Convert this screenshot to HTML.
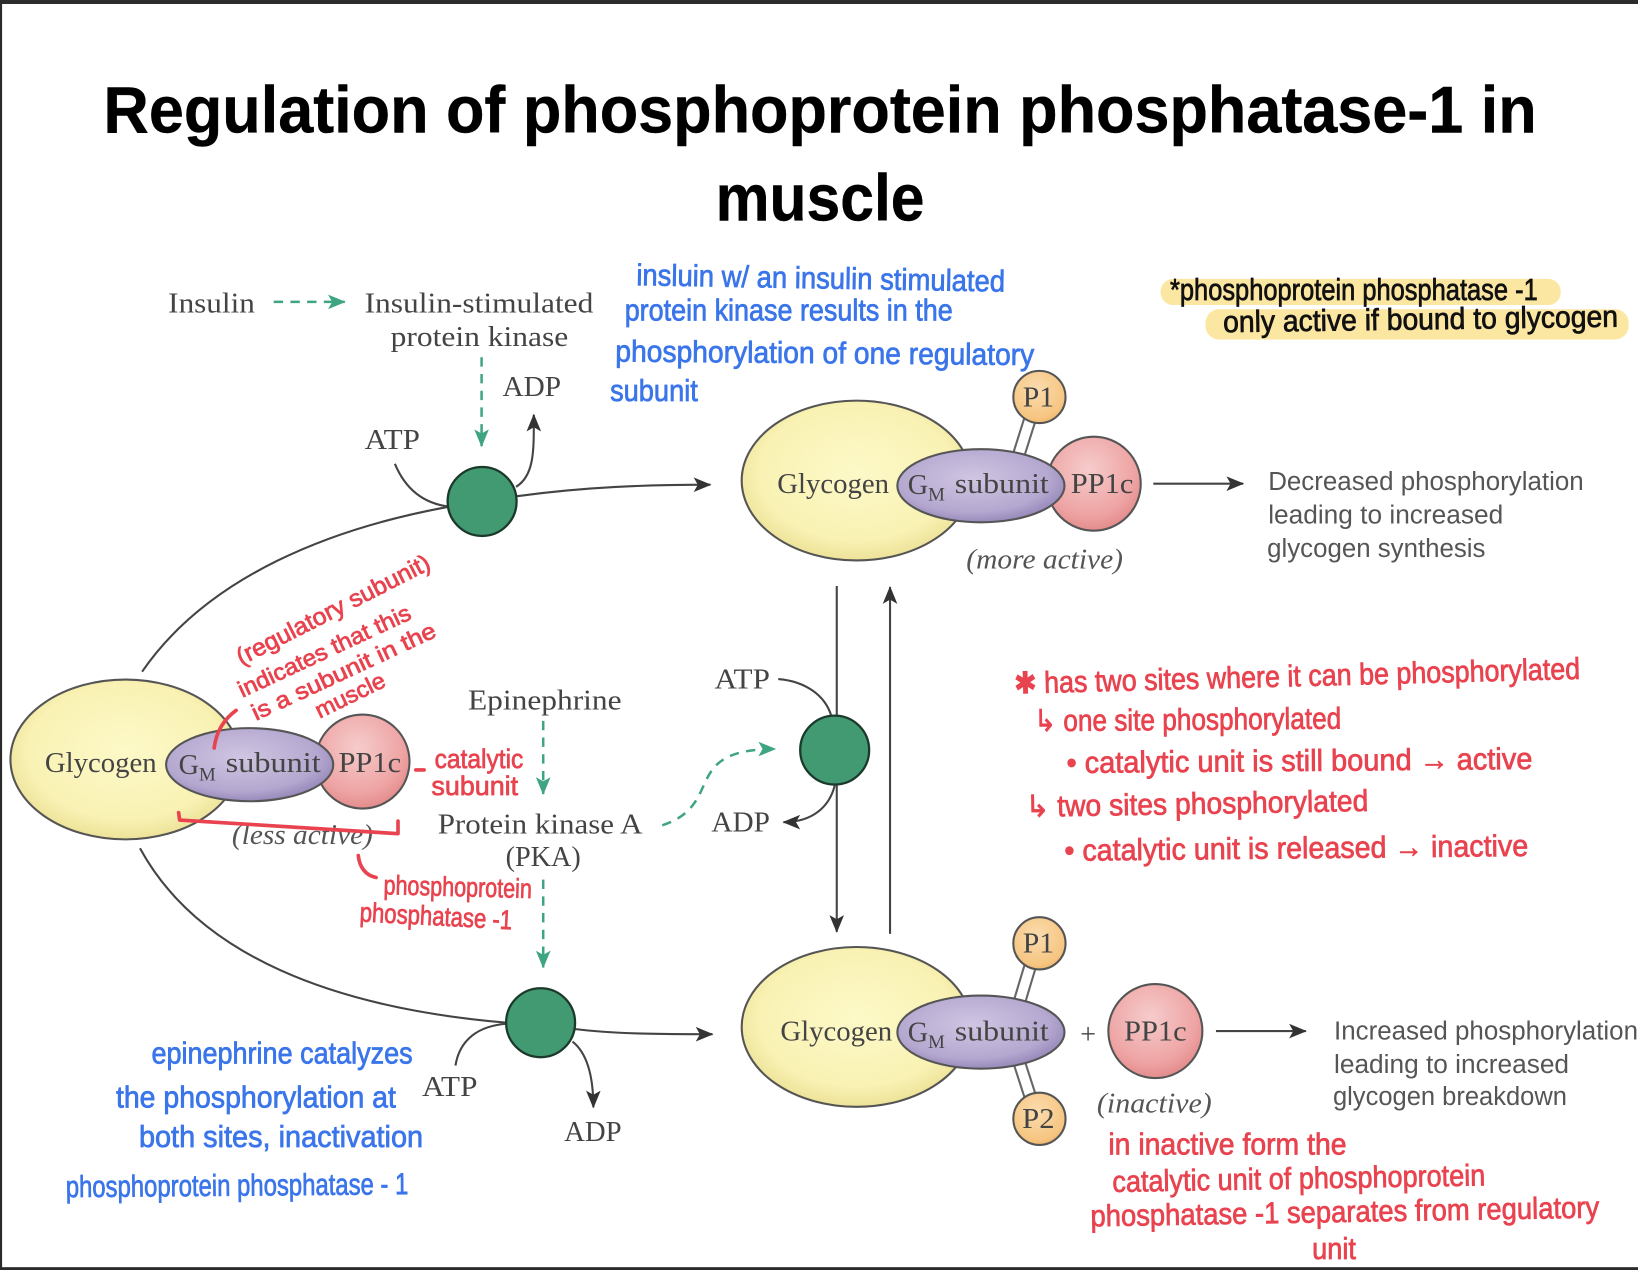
<!DOCTYPE html>
<html><head><meta charset="utf-8"><title>Regulation of phosphoprotein phosphatase-1 in muscle</title>
<style>
html,body{margin:0;padding:0;background:#fff}
svg{display:block;filter:blur(.35px)}
.t{font-family:"Liberation Sans",sans-serif;font-weight:700;fill:#000;stroke:#000;stroke-width:.4}
.s{font-family:"Liberation Serif",serif;font-size:27px;fill:#444}
.i{font-style:italic;fill:#555}
.a{font-family:"Liberation Sans",sans-serif;font-size:25px;fill:#555}
.h{font-family:"Liberation Sans",sans-serif;font-size:29px;stroke-width:.7}
.b{fill:#3a75ea;stroke:#3a75ea}
.r{fill:#e8434f;stroke:#e8434f}
.k{fill:#111;stroke:#111}
.l{fill:none;stroke:#444;stroke-width:2}
.d{fill:none;stroke:#3fa483;stroke-width:2.4;stroke-dasharray:9 7}
.rl{fill:none;stroke:#e8434f;stroke-width:3.5;stroke-linecap:round;stroke-linejoin:round}
.o{stroke:#555;stroke-width:2}
.stalk{stroke:#666;stroke-width:13}
.stalk2{stroke:#fff;stroke-width:9}
.g{fill:#429a72;stroke:#1c3a2c;stroke-width:2.2}
</style></head><body>
<svg width="1638" height="1270" viewBox="0 0 1568 1215.7" xmlns="http://www.w3.org/2000/svg">
<defs>
<radialGradient id="gy" cx=".5" cy=".45" r=".6"><stop offset="0" stop-color="#fdf9c8"/><stop offset=".7" stop-color="#f9f2b4"/><stop offset="1" stop-color="#e8dc8e"/></radialGradient>
<radialGradient id="gp" cx=".45" cy=".4" r=".65"><stop offset="0" stop-color="#d0c5e2"/><stop offset=".7" stop-color="#b5a8d0"/><stop offset="1" stop-color="#8f80b3"/></radialGradient>
<radialGradient id="grr" cx=".45" cy=".35" r=".7"><stop offset="0" stop-color="#f6cccc"/><stop offset=".7" stop-color="#eea3a3"/><stop offset="1" stop-color="#e08585"/></radialGradient>
<radialGradient id="go" cx=".45" cy=".35" r=".7"><stop offset="0" stop-color="#fbdcae"/><stop offset=".8" stop-color="#f6c581"/><stop offset="1" stop-color="#eeb066"/></radialGradient>
<marker id="ak" markerUnits="userSpaceOnUse" markerWidth="18" markerHeight="14" refX="16" refY="7" orient="auto"><path d="M0 0L17 7L0 14L4 7Z" fill="#333"/></marker>
<marker id="ag" markerUnits="userSpaceOnUse" markerWidth="18" markerHeight="14" refX="16" refY="7" orient="auto"><path d="M0 0L17 7L0 14L4 7Z" fill="#3fa483"/></marker>
</defs>
<rect width="1568" height="1215.7" fill="#fff"/>
<rect width="1568" height="3.8" fill="#2b2b2b"/>
<rect width="2" height="1215.7" fill="#2b2b2b"/>
<rect y="1213" width="1568" height="3" fill="#2b2b2b"/>

<text class="t" x="99" y="127" font-size="63" textLength="1372" lengthAdjust="spacingAndGlyphs">Regulation of phosphoprotein phosphatase-1 in</text>
<text class="t" x="685" y="211" font-size="63" textLength="200" lengthAdjust="spacingAndGlyphs">muscle</text>

<text class="s" x="161" y="299" textLength="83" lengthAdjust="spacingAndGlyphs">Insulin</text>
<path class="d" d="M262 289H330" marker-end="url(#ag)"/>
<text class="s" x="349" y="299" textLength="219" lengthAdjust="spacingAndGlyphs">Insulin-stimulated</text>
<text class="s" x="374" y="331" textLength="170" lengthAdjust="spacingAndGlyphs">protein kinase</text>
<path class="d" d="M461 342V427" marker-end="url(#ag)"/>
<text class="s" x="481" y="379" textLength="56" lengthAdjust="spacingAndGlyphs">ADP</text>
<text class="s" x="349" y="430" textLength="53" lengthAdjust="spacingAndGlyphs">ATP</text>

<path class="l" d="M136 643C200 550 320 505 430 485"/>
<path class="l" d="M495 475C560 466 620 464 680 464" stroke-width="3" marker-end="url(#ak)"/>
<path class="l" d="M378 444C388 468 405 482 430 485"/>
<path class="l" d="M494 466C512 455 511 430 511 397" marker-end="url(#ak)"/>
<circle class="g" cx="461.5" cy="480" r="33"/>

<path class="l" d="M134 812C190 915 320 965 485 979"/>
<path class="l" d="M550 985C590 990 640 990 682 990" marker-end="url(#ak)"/>
<path class="l" d="M436 1020C440 995 458 982 485 980"/>
<path class="l" d="M548 997C562 1008 568 1030 568 1060" marker-end="url(#ak)"/>
<circle class="g" cx="517.5" cy="979" r="33"/>
<text class="s" x="404" y="1049" textLength="53" lengthAdjust="spacingAndGlyphs">ATP</text>
<text class="s" x="540" y="1092" textLength="55" lengthAdjust="spacingAndGlyphs">ADP</text>

<path class="l" d="M801 561V892" marker-end="url(#ak)"/>
<path class="l" d="M852 894V562" marker-end="url(#ak)"/>
<path class="l" d="M745 650C770 652 790 665 796 686"/>
<path class="l" d="M799 752C794 772 778 787 750 787" marker-end="url(#ak)"/>
<circle class="g" cx="799" cy="718" r="33"/>
<text class="s" x="684" y="659" textLength="53" lengthAdjust="spacingAndGlyphs">ATP</text>
<text class="s" x="681" y="796" textLength="56" lengthAdjust="spacingAndGlyphs">ADP</text>

<text class="s" x="448" y="679" textLength="147" lengthAdjust="spacingAndGlyphs">Epinephrine</text>
<path class="d" d="M520 690V760" marker-end="url(#ag)"/>
<text class="s" x="419" y="798" textLength="196" lengthAdjust="spacingAndGlyphs">Protein kinase A</text>
<text class="s" x="484" y="829" textLength="72" lengthAdjust="spacingAndGlyphs">(PKA)</text>
<path class="d" d="M520 842V926" marker-end="url(#ag)"/>
<path class="d" d="M634 790C695 770 650 717 742 717" marker-end="url(#ag)"/>

<ellipse class="o" cx="120" cy="727" rx="110" ry="76.5" fill="url(#gy)"/>
<circle class="o" cx="347" cy="729" r="45" fill="url(#grr)"/>
<ellipse class="o" cx="239" cy="732" rx="80" ry="35" fill="url(#gp)"/>
<text class="s" x="43" y="739" textLength="107" lengthAdjust="spacingAndGlyphs">Glycogen</text>
<text class="s" x="171" y="741">G<tspan font-size="18" dy="6">M</tspan></text>
<text class="s" x="216" y="739" textLength="91" lengthAdjust="spacingAndGlyphs">subunit</text>
<text class="s" x="324" y="739" textLength="60" lengthAdjust="spacingAndGlyphs">PP1c</text>
<text class="s i" x="222" y="808" textLength="135" lengthAdjust="spacingAndGlyphs">(less active)</text>

<path class="stalk" d="M987 398L975 436"/><path class="stalk2" d="M987 398L975 436"/>
<circle class="o" cx="995" cy="380" r="25" fill="url(#go)"/>
<ellipse class="o" cx="820" cy="460" rx="110" ry="76.5" fill="url(#gy)"/>
<circle class="o" cx="1047" cy="463" r="45" fill="url(#grr)"/>
<ellipse class="o" cx="939" cy="465" rx="80" ry="35" fill="url(#gp)"/>
<text class="s" x="994" y="389" text-anchor="middle" textLength="30" lengthAdjust="spacingAndGlyphs">P1</text>
<text class="s" x="744" y="472" textLength="107" lengthAdjust="spacingAndGlyphs">Glycogen</text>
<text class="s" x="869" y="473">G<tspan font-size="18" dy="6">M</tspan></text>
<text class="s" x="914" y="472" textLength="90" lengthAdjust="spacingAndGlyphs">subunit</text>
<text class="s" x="1025" y="472" textLength="60" lengthAdjust="spacingAndGlyphs">PP1c</text>
<text class="s i" x="925" y="544" textLength="150" lengthAdjust="spacingAndGlyphs">(more active)</text>
<path class="l" d="M1104 463H1190" marker-end="url(#ak)"/>
<text class="a" x="1214" y="469" textLength="302" lengthAdjust="spacingAndGlyphs">Decreased phosphorylation</text>
<text class="a" x="1214" y="501" textLength="225" lengthAdjust="spacingAndGlyphs">leading to increased</text>
<text class="a" x="1213" y="533" textLength="209" lengthAdjust="spacingAndGlyphs">glycogen synthesis</text>

<path class="stalk" d="M987 922L975 962"/><path class="stalk2" d="M987 922L975 962"/>
<path class="stalk" d="M975 1015L987 1052"/><path class="stalk2" d="M975 1015L987 1052"/>
<circle class="o" cx="995" cy="903" r="25" fill="url(#go)"/>
<circle class="o" cx="995" cy="1071" r="25" fill="url(#go)"/>
<ellipse class="o" cx="820" cy="983" rx="110" ry="76.5" fill="url(#gy)"/>
<ellipse class="o" cx="939" cy="988" rx="80" ry="35" fill="url(#gp)"/>
<circle class="o" cx="1106" cy="987" r="45" fill="url(#grr)"/>
<text class="s" x="994" y="912" text-anchor="middle" textLength="30" lengthAdjust="spacingAndGlyphs">P1</text>
<text class="s" x="994" y="1080" text-anchor="middle" textLength="31" lengthAdjust="spacingAndGlyphs">P2</text>
<text class="s" x="747" y="996" textLength="107" lengthAdjust="spacingAndGlyphs">Glycogen</text>
<text class="s" x="869" y="997">G<tspan font-size="18" dy="6">M</tspan></text>
<text class="s" x="914" y="996" textLength="90" lengthAdjust="spacingAndGlyphs">subunit</text>
<text class="s" x="1034" y="999" font-size="30">+</text>
<text class="s" x="1076" y="996" textLength="60" lengthAdjust="spacingAndGlyphs">PP1c</text>
<text class="s i" x="1050" y="1065" textLength="110" lengthAdjust="spacingAndGlyphs">(inactive)</text>
<path class="l" d="M1164 987H1250" stroke-width="2.6" marker-end="url(#ak)"/>
<text class="a" x="1277" y="995" textLength="291" lengthAdjust="spacingAndGlyphs">Increased phosphorylation</text>
<text class="a" x="1277" y="1027" textLength="225" lengthAdjust="spacingAndGlyphs">leading to increased</text>
<text class="a" x="1276" y="1058" textLength="224" lengthAdjust="spacingAndGlyphs">glycogen breakdown</text>

<text class="h b" transform="translate(609 273) rotate(1)" textLength="353" lengthAdjust="spacingAndGlyphs">insluin w/ an insulin stimulated</text>
<text class="h b" x="598" y="307" textLength="314" lengthAdjust="spacingAndGlyphs">protein kinase results in the</text>
<text class="h b" transform="translate(589 346) rotate(.5)" textLength="401" lengthAdjust="spacingAndGlyphs">phosphorylation of one regulatory</text>
<text class="h b" x="584" y="384" textLength="84" lengthAdjust="spacingAndGlyphs">subunit</text>

<rect x="1111" y="267" width="383" height="25" rx="12" fill="#fbe6a2"/>
<rect x="1154" y="296" width="405" height="29" rx="13" fill="#fbe6a2"/>
<text class="h k" x="1120" y="287" font-size="25" textLength="352" lengthAdjust="spacingAndGlyphs">*phosphoprotein phosphatase -1</text>
<text class="h k" transform="translate(1171 318) rotate(-.8)" textLength="378" lengthAdjust="spacingAndGlyphs">only active if bound to glycogen</text>

<text class="h r" style="font-size:23px" transform="translate(231 637) rotate(-27)" textLength="205" lengthAdjust="spacingAndGlyphs">(regulatory subunit)</text>
<text class="h r" style="font-size:22px" transform="translate(232 668) rotate(-25)" textLength="180" lengthAdjust="spacingAndGlyphs">indicates that this</text>
<text class="h r" style="font-size:22px" transform="translate(245 690) rotate(-25)" textLength="192" lengthAdjust="spacingAndGlyphs">is a subunit in the</text>
<text class="h r" style="font-size:22px" transform="translate(306 688) rotate(-26)" textLength="72" lengthAdjust="spacingAndGlyphs">muscle</text>
<path class="rl" d="M205 716C207 700 215 688 226 680"/>
<path class="rl" d="M171 778L172 785L381 798V786"/>
<path class="rl" d="M343 819C344 830 350 838 360 840"/>
<path class="rl" d="M398 737H406"/>
<text class="h r" style="font-size:26px" x="416" y="735" textLength="85" lengthAdjust="spacingAndGlyphs">catalytic</text>
<text class="h r" style="font-size:26px" x="413" y="761" textLength="83" lengthAdjust="spacingAndGlyphs">subunit</text>
<text class="h r" style="font-size:26px" transform="translate(367 856) rotate(1.5)" textLength="142" lengthAdjust="spacingAndGlyphs">phosphoprotein</text>
<text class="h r" style="font-size:26px" transform="translate(344 882) rotate(3)" textLength="146" lengthAdjust="spacingAndGlyphs">phosphatase -1</text>

<text class="h r" transform="translate(971 664) rotate(-1.5)" textLength="542" lengthAdjust="spacingAndGlyphs">✱ has two sites where it can be phosphorylated</text>
<text class="h r" transform="translate(990 700) rotate(-.5)" textLength="294" lengthAdjust="spacingAndGlyphs">↳ one site phosphorylated</text>
<text class="h r" transform="translate(1021 740) rotate(-.5)" textLength="446" lengthAdjust="spacingAndGlyphs">• catalytic unit is still bound → active</text>
<text class="h r" transform="translate(982 782) rotate(-1)" textLength="328" lengthAdjust="spacingAndGlyphs">↳ two sites phosphorylated</text>
<text class="h r" transform="translate(1019 824) rotate(-.6)" textLength="444" lengthAdjust="spacingAndGlyphs">• catalytic unit is released → inactive</text>

<text class="h b" x="145" y="1018" textLength="250" lengthAdjust="spacingAndGlyphs">epinephrine catalyzes</text>
<text class="h b" x="111" y="1060" textLength="268" lengthAdjust="spacingAndGlyphs">the phosphorylation at</text>
<text class="h b" x="133" y="1098" textLength="272" lengthAdjust="spacingAndGlyphs">both sites, inactivation</text>
<text class="h b" transform="translate(63 1146) rotate(-.5)" textLength="328" lengthAdjust="spacingAndGlyphs">phosphoprotein phosphatase - 1</text>

<text class="h r" x="1061" y="1105" textLength="228" lengthAdjust="spacingAndGlyphs">in inactive form the</text>
<text class="h r" transform="translate(1065 1141) rotate(-1)" textLength="357" lengthAdjust="spacingAndGlyphs">catalytic unit of phosphoprotein</text>
<text class="h r" transform="translate(1044 1174) rotate(-1)" textLength="487" lengthAdjust="spacingAndGlyphs">phosphatase -1 separates from regulatory</text>
<text class="h r" x="1256" y="1205" textLength="42" lengthAdjust="spacingAndGlyphs">unit</text>
</svg>
</body></html>
